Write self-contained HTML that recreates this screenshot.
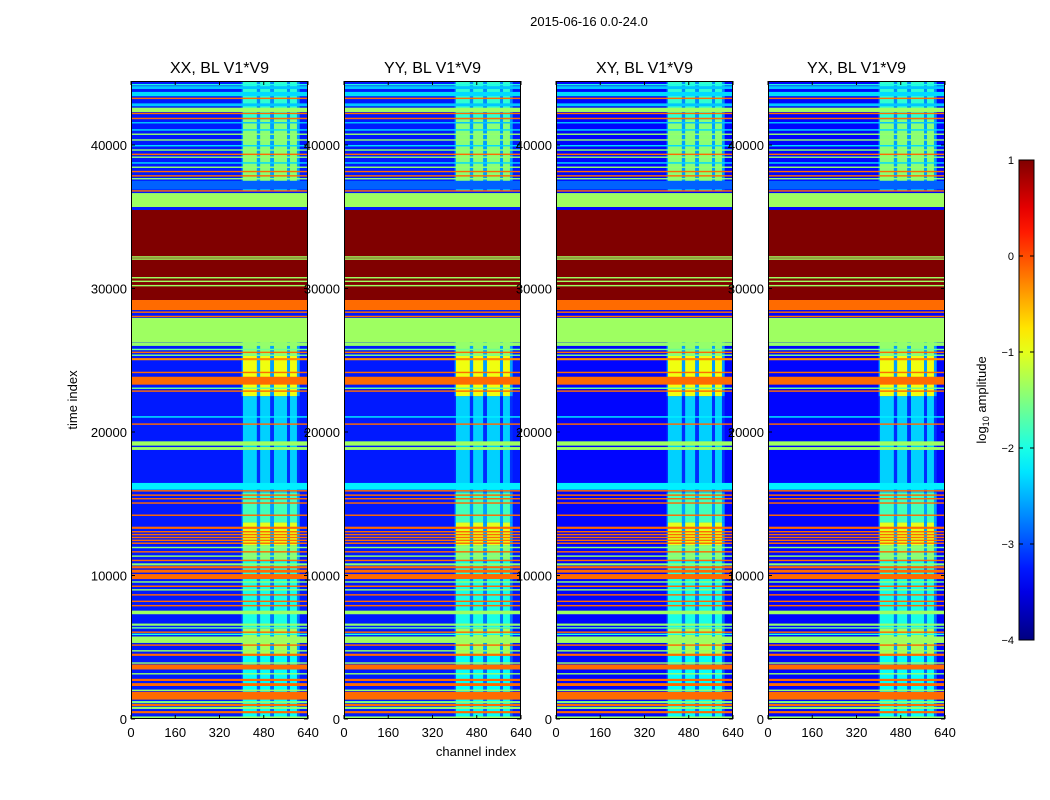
<!DOCTYPE html>
<html><head><meta charset="utf-8"><style>
html,body{margin:0;padding:0;background:#fff;}
svg{display:block;font-family:"Liberation Sans","DejaVu Sans",sans-serif;}
</style></head><body>
<svg id="fig" width="1050" height="800" viewBox="0 0 1050 800">
<text x="589" y="26" font-size="13" text-anchor="middle">2015-06-16 0.0-24.0</text>
<text transform="translate(77,400) rotate(-90)" font-size="13" text-anchor="middle">time index</text>
<text x="476" y="756" font-size="13" text-anchor="middle">channel index</text>
<text transform="translate(986,400) rotate(-90)" font-size="13" text-anchor="middle">log<tspan font-size="9" dy="3">10</tspan><tspan dy="-3"> amplitude</tspan></text>
<g id="panels"></g>
<g id="cbar"></g>
</svg>
<script>
const panelTitles = ["XX, BL V1*V9","YY, BL V1*V9","XY, BL V1*V9","YX, BL V1*V9"];
const panelBackground = [-3.25,-3.25,-3.35,-3.35];
const xTicks = [0,160,320,480,640];
const yTicks = [0,10000,20000,30000,40000];
const cbarTicks = [1,0,-1,-2,-3,-4];
const cbarTickLabels = ["1","0","\u22121","\u22122","\u22123","\u22124"];
const activeRegion = [400,610];
const activeColumns = [[405,455],[467,503],[517,564],[575,600]];
const regionBands = [
 [0,4400,-2.1],[4400,6300,-1.3],[6300,11000,-2.0],[11000,12100,-1.5],[12100,13700,-1.0],
 [13700,15800,-1.8],[15800,22500,-2.35],[22500,25300,-0.95],[25300,26300,-1.4],
 [36800,37500,-2.2],[37500,41800,-1.45],[41800,44500,-1.9]
];
const fullBands = [
 [0,180,-1.4],[400,550,-0.15],[700,850,-1.4],[900,1050,-0.15],[1100,1250,-1.5],[1350,1900,-0.15],
 [1950,2050,-1.4],[2300,2500,-0.15],[2650,2800,-0.15],[3100,3200,-1.4],[3450,3800,-0.15],[3850,3950,-1.4],
 [4400,4550,-0.15],[4700,4800,-1.4],[5100,5200,-0.15],[5300,5750,-1.35],[5850,5950,-2.0],[6000,6100,-0.15],
 [6300,6400,-1.6],[6500,6650,-1.4],[7300,7550,-1.35],[7850,7950,-0.15],[8150,8250,-0.15],
 [8600,8700,-0.15],[8950,9050,-1.4],[9200,9300,-0.15],[9500,9600,-1.4],[9750,10100,-0.15],[10200,10400,-0.15],
 [10500,10650,-0.15],[10700,10850,-1.4],[11000,11100,-0.15],[11300,11400,-1.4],[11600,11700,-0.15],
 [11900,12000,-1.4],[12200,12300,-0.15],[12400,12500,-0.15],[12600,12700,-0.15],[12800,12900,-0.15],
 [13000,13100,-0.15],[13250,13400,-0.15],[14150,14250,-0.15],[15000,15100,-0.15],[15300,15400,-0.15],
 [15550,15650,-0.15],[15850,15950,-0.15],[15980,16450,-2.2],[18750,18950,-1.35],[19050,19350,-1.35],
 [20500,20600,-0.15],[21000,21100,-2.2],[22800,22900,-0.15],[23000,23100,-1.6],[23300,23850,-0.15],
 [24100,24200,-0.15],[25000,25150,-0.3],[25300,25400,-1.5],[25500,25600,-0.15],[25700,25800,-1.6],[26000,26250,-1.4],
 [26270,27950,-1.35],[28000,28100,-0.15],[28300,28400,-0.15],[28500,29200,-0.15],
 [29200,35470,1.0],[30150,30250,-1.35],[30450,30550,-1.35],[30700,30800,-1.35],[32000,32100,-1.35],[32150,32250,-1.35],
 [35680,36650,-1.35],[36750,36850,-0.15],[36900,37500,-2.9],[37600,37700,-1.4],[37800,37900,-0.15],
 [38100,38200,-0.15],[38400,38500,-1.4],[38700,38800,-2.3],[39100,39200,-1.4],[39300,39400,-0.15],
 [39600,39700,-1.4],[39900,40000,-2.3],[40300,40400,-1.4],[40700,40800,-1.4],[41000,41100,-2.3],
 [41500,41600,-2.4],[41800,41900,-0.15],[42150,42250,-0.15],[42300,42600,-1.35],[42700,42900,-2.4],
 [43200,43300,-0.15],[43400,43700,-2.3],[43900,44100,-2.4],[44150,44250,-2.0]
];

(function(){
function jet(v){
  let x=(v+4)/5; x=Math.max(0,Math.min(1,x));
  const c=f=>Math.round(255*Math.max(0,Math.min(1,f)));
  const r=c(Math.min(4*x-1.5,-4*x+4.5)), g=c(Math.min(4*x-0.5,-4*x+3.5)), b=c(Math.min(4*x+0.5,-4*x+2.5));
  return `rgb(${r},${g},${b})`;
}
const NS="http://www.w3.org/2000/svg";
function mk(tag,attrs,parent){const e=document.createElementNS(NS,tag);for(const k in attrs)e.setAttribute(k,attrs[k]);parent.appendChild(e);return e;}

const panelsG=document.getElementById('panels');
const panelX=[131,344,556,768], pw=177, axTop=81, axBottom=719;
const yTickScale=t=>719-t*0.01435;

panelX.forEach((px,pi)=>{
  const xs=ch=>px+ch/640*pw;
  const g=mk('g',{},panelsG);
  
  
  const hm=mk('g',{},g);
  
  
  const bg=mk('rect',{x:px,y:axTop,width:pw,height:axBottom-axTop,fill:jet(panelBackground[pi])},hm);
  
  
  regionBands.forEach(b=>{
    const y1=Math.max(axTop,yTickScale(b[1])), y0=yTickScale(b[0]);
    const r=mk('rect',{x:xs(activeRegion[0]),y:y1,width:xs(activeRegion[1])-xs(activeRegion[0]),height:y0-y1,fill:jet(Math.min(b[2]-0.8,-2.6))},hm);
    
    
    activeColumns.forEach(c=>{
      const cr=mk('rect',{x:xs(c[0]),y:y1,width:xs(c[1])-xs(c[0]),height:y0-y1,fill:jet(b[2])},hm);
      
      
    });
  });
  fullBands.forEach(b=>{
    const y1=Math.max(axTop,yTickScale(b[1])), y0=yTickScale(b[0]);
    const r=mk('rect',{x:px,y:y1,width:pw,height:Math.max(1,y0-y1),fill:jet(b[2])},hm);
    
    
  });
  const fr=mk('rect',{x:px+0.5,y:axTop+0.5,width:pw-1,height:axBottom-axTop-1,fill:'none',stroke:'#000','stroke-width':1},g);
  
  
  const tt=mk('text',{x:px+pw/2,y:73,'font-size':16,'text-anchor':'middle'},g);
  tt.textContent=panelTitles[pi];
  
  
  xTicks.forEach(v=>{
    const x=xs(v);
    mk('line',{x1:x,x2:x,y1:axBottom,y2:axBottom-4,stroke:'#000'},g);
    mk('line',{x1:x,x2:x,y1:axTop,y2:axTop+4,stroke:'#000'},g);
    const t=mk('text',{x:x,y:737,'font-size':13,'text-anchor':'middle'},g);
    t.textContent=v;
    
    
  });
  yTicks.forEach(v=>{
    const y=yTickScale(v);
    mk('line',{x1:px,x2:px+4,y1:y,y2:y,stroke:'#000'},g);
    mk('line',{x1:px+pw,x2:px+pw-4,y1:y,y2:y,stroke:'#000'},g);
    const t=mk('text',{x:px-4,y:y+5,'font-size':13,'text-anchor':'end'},g);
    t.textContent=v;
    
    
  });
});

const cb=document.getElementById('cbar');


const cbX=1019, cbW=15, cbTop=160, cbBot=640;
const cbY=v=>cbTop+(1-v)/5*(cbBot-cbTop);
const defs=mk('defs',{},cb);
const grad=mk('linearGradient',{id:'jetg',x1:0,y1:1,x2:0,y2:0},defs);
for(let i=0;i<=20;i++){mk('stop',{offset:i/20,'stop-color':jet(-4+5*i/20)},grad);}
const cr=mk('rect',{x:cbX,y:cbTop,width:cbW,height:cbBot-cbTop,fill:'url(#jetg)',stroke:'#000'},cb);


cbarTicks.forEach((v,i)=>{
  const y=cbY(v);
  mk('line',{x1:cbX,x2:cbX+4,y1:y,y2:y,stroke:'#000'},cb);
  mk('line',{x1:cbX+cbW,x2:cbX+cbW-4,y1:y,y2:y,stroke:'#000'},cb);
  const t=mk('text',{x:cbX-5,y:y+4,'font-size':11,'text-anchor':'end'},cb);
  t.textContent=cbarTickLabels[i];
  
  
});
})();
</script>
</body></html>
